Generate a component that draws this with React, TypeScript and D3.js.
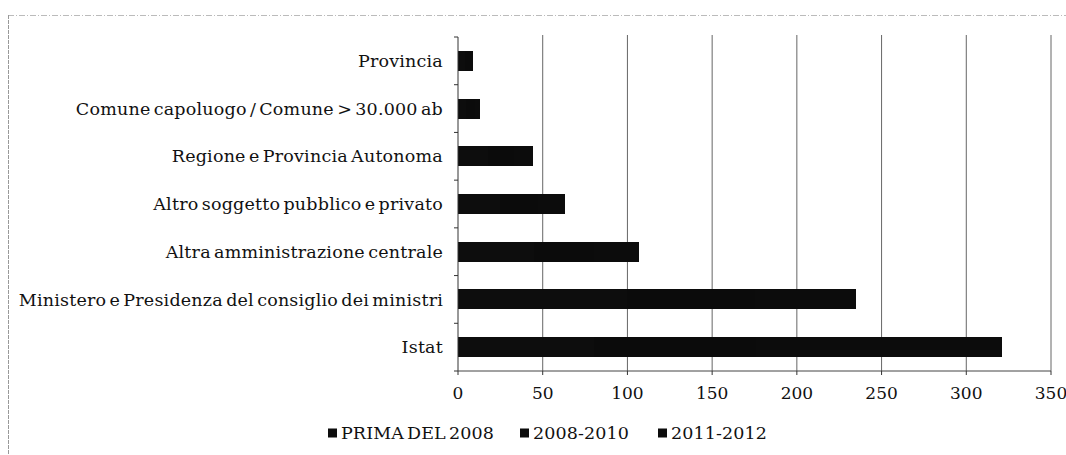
import React from 'react';
import * as d3 from 'd3';

const categories = [
  'Provincia',
  'Comune capoluogo / Comune > 30.000 ab',
  'Regione e Provincia Autonoma',
  'Altro soggetto pubblico e privato',
  'Altra amministrazione centrale',
  'Ministero e Presidenza del consiglio dei ministri',
  'Istat',
];
const seriesNames = ['PRIMA DEL 2008', '2008-2010', '2011-2012'];
// scanned in greyscale: segment split is estimated, totals read from bar ends
const prima2008 = [4, 5, 18, 25, 45, 100, 80];
const anni2008_2010 = [3, 5, 15, 22, 35, 75, 96];
const anni2011_2012 = [2, 3, 11, 16, 27, 60, 145];
const xTicks = [0, 50, 100, 150, 200, 250, 300, 350];
const colors = ['#0d0d0d', '#0b0b0b', '#0c0c0c'];

const W = 1066;
const H = 455;
const margin = { top: 37, right: 15, bottom: 84, left: 458 };
const font = '"DejaVu Serif", "Liberation Serif", serif';

const App = () => {
  const rows = categories.map((c, i) => ({
    cat: c,
    [seriesNames[0]]: prima2008[i],
    [seriesNames[1]]: anni2008_2010[i],
    [seriesNames[2]]: anni2011_2012[i],
  }));
  const stacked = d3.stack<any>().keys(seriesNames)(rows);

  const x = d3.scaleLinear().domain([0, 350]).range([margin.left, W - margin.right]);
  const y = d3.scaleBand().domain(categories).range([margin.top, H - margin.bottom]).paddingInner(0.58).paddingOuter(0.29);
  const yb = d3.scaleBand().domain(categories).range([margin.top, H - margin.bottom]);
  const bottom = H - margin.bottom;

  return (
    <svg width={W} height={H} style={{ position: 'absolute', left: 0, top: 0, background: '#fff' }}>
      {/* outer frame */}
      <line x1={8} x2={W} y1={15.5} y2={15.5} stroke="#bbb" strokeDasharray="6,2,1,2" />
      <line x1={8.5} x2={8.5} y1={15} y2={H} stroke="#999" strokeDasharray="4,1" />

      {/* grid */}
      {xTicks.slice(1).map(t => (
        <line key={t} x1={x(t)} x2={x(t)} y1={margin.top - 2} y2={bottom} stroke="#555" strokeWidth={0.9} />
      ))}

      {/* bars */}
      {stacked.map((s, si) => (
        <g key={s.key} fill={colors[si]} shapeRendering="crispEdges">
          {s.map((d, i) => (
            <rect key={i} x={x(d[0])} y={y(categories[i])} width={x(d[1]) - x(d[0]) + (si < 2 ? 1 : 0)} height={y.bandwidth()} />
          ))}
        </g>
      ))}

      {/* axes */}
      <line x1={x(0)} x2={x(0)} y1={margin.top} y2={bottom} stroke="#333" />
      {categories.map(c => (
        <line key={c} x1={x(0) - 4} x2={x(0)} y1={yb(c)} y2={yb(c)} stroke="#333" />
      ))}
      <line x1={x(0) - 4} x2={x(0)} y1={bottom} y2={bottom} stroke="#333" />
      <line x1={x(0)} x2={x(350)} y1={bottom} y2={bottom} stroke="#444" />
      {xTicks.map(t => (
        <g key={t}>
          <line x1={x(t)} x2={x(t)} y1={bottom} y2={bottom + 4} stroke="#333" />
          <text x={x(t)} y={bottom + 28} textAnchor="middle" fontFamily={font} fontSize={17} fill="#111">{t}</text>
        </g>
      ))}

      {/* category labels */}
      {categories.map(c => (
        <text key={c} x={443} y={y(c)! + y.bandwidth() / 2} dy="0.35em" textAnchor="end"
          fontFamily={font} fontSize={17.5} letterSpacing={0.2} wordSpacing={-2.5} fill="#111">{c}</text>
      ))}

      {/* legend */}
      {seriesNames.map((n, i) => {
        const lx = [328, 520, 658][i];
        return (
          <g key={n}>
            <rect x={lx} y={428.5} width={9} height={9} fill={colors[i]} />
            <text x={lx + 13} y={439} fontFamily={font} fontSize={17.5} letterSpacing={0.1} wordSpacing={-2.5} fill="#111">{n}</text>
          </g>
        );
      })}
    </svg>
  );
};

export default App;
